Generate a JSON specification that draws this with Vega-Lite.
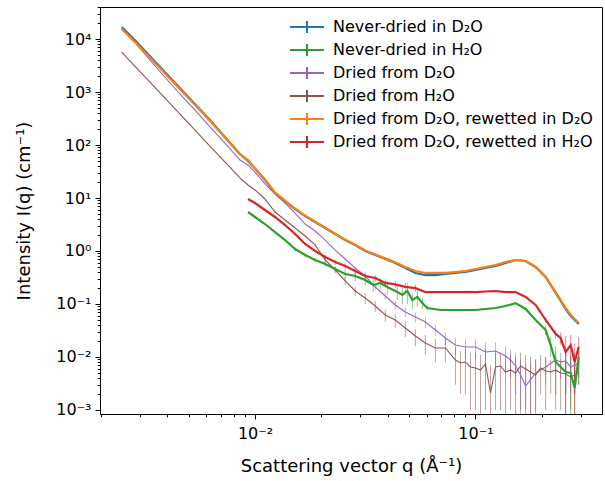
{
  "$schema": "https://vega.github.io/schema/vega-lite/v6.json",
  "width": 502,
  "height": 407,
  "autosize": {"type": "none"},
  "padding": {"left": 100, "top": 7, "right": 3, "bottom": 67},
  "background": "white",
  "config": {
    "view": {"stroke": "black", "strokeWidth": 1},
    "font": "DejaVu Sans",
    "axis": {
      "domainColor": "black", "tickColor": "black", "labelColor": "black", "titleColor": "black",
      "labelFont": "DejaVu Sans", "titleFont": "DejaVu Sans", "labelFontSize": 16, "titleFontSize": 18,
      "titleFontWeight": "normal", "grid": false, "labelOverlap": false, "labelFlush": false, "tickWidth": 1, "domainWidth": 1
    },
    "legend": {
      "labelFont": "DejaVu Sans", "labelFontSize": 16, "labelColor": "black", "labelLimit": 0
    }
  },
  "data": {"values": [
    {"s":"Never-dried in D₂O","q":0.002486,"I":16840},
    {"s":"Never-dried in D₂O","q":0.002848,"I":9570},
    {"s":"Never-dried in D₂O","q":0.003332,"I":4780},
    {"s":"Never-dried in D₂O","q":0.003898,"I":2385},
    {"s":"Never-dried in D₂O","q":0.00456,"I":1190},
    {"s":"Never-dried in D₂O","q":0.005337,"I":594},
    {"s":"Never-dried in D₂O","q":0.006245,"I":296},
    {"s":"Never-dried in D₂O","q":0.007305,"I":141.6},
    {"s":"Never-dried in D₂O","q":0.008547,"I":67.6},
    {"s":"Never-dried in D₂O","q":0.009294,"I":50},
    {"s":"Never-dried in D₂O","q":0.01,"I":36},
    {"s":"Never-dried in D₂O","q":0.0111,"I":21.9},
    {"s":"Never-dried in D₂O","q":0.01233,"I":12.4},
    {"s":"Never-dried in D₂O","q":0.01369,"I":8.77},
    {"s":"Never-dried in D₂O","q":0.0152,"I":6.2},
    {"s":"Never-dried in D₂O","q":0.01688,"I":4.58},
    {"s":"Never-dried in D₂O","q":0.01874,"I":3.53},
    {"s":"Never-dried in D₂O","q":0.02081,"I":2.72},
    {"s":"Never-dried in D₂O","q":0.0231,"I":2.09},
    {"s":"Never-dried in D₂O","q":0.02565,"I":1.61},
    {"s":"Never-dried in D₂O","q":0.02848,"I":1.3},
    {"s":"Never-dried in D₂O","q":0.03162,"I":1.0},
    {"s":"Never-dried in D₂O","q":0.03511,"I":0.84},
    {"s":"Never-dried in D₂O","q":0.03899,"I":0.707},
    {"s":"Never-dried in D₂O","q":0.04329,"I":0.594},
    {"s":"Never-dried in D₂O","q":0.04807,"I":0.478},
    {"s":"Never-dried in D₂O","q":0.05337,"I":0.385},
    {"s":"Never-dried in D₂O","q":0.05926,"I":0.352},
    {"s":"Never-dried in D₂O","q":0.06579,"I":0.352},
    {"s":"Never-dried in D₂O","q":0.07305,"I":0.368},
    {"s":"Never-dried in D₂O","q":0.08111,"I":0.385},
    {"s":"Never-dried in D₂O","q":0.09006,"I":0.402},
    {"s":"Never-dried in D₂O","q":0.1,"I":0.438},
    {"s":"Never-dried in D₂O","q":0.111,"I":0.478},
    {"s":"Never-dried in D₂O","q":0.1233,"I":0.521},
    {"s":"Never-dried in D₂O","q":0.1369,"I":0.594},
    {"s":"Never-dried in D₂O","q":0.152,"I":0.676},
    {"s":"Never-dried in D₂O","q":0.1688,"I":0.648},
    {"s":"Never-dried in D₂O","q":0.1874,"I":0.499},
    {"s":"Never-dried in D₂O","q":0.2081,"I":0.323},
    {"s":"Never-dried in D₂O","q":0.231,"I":0.161},
    {"s":"Never-dried in D₂O","q":0.2434,"I":0.114},
    {"s":"Never-dried in D₂O","q":0.2565,"I":0.08},
    {"s":"Never-dried in D₂O","q":0.2703,"I":0.0594},
    {"s":"Never-dried in D₂O","q":0.2818,"I":0.05},
    {"s":"Never-dried in D₂O","q":0.2938,"I":0.042},

    {"s":"Never-dried in H₂O","q":0.009294,"I":5.44},
    {"s":"Never-dried in H₂O","q":0.01,"I":4.38},
    {"s":"Never-dried in H₂O","q":0.0111,"I":3.23},
    {"s":"Never-dried in H₂O","q":0.01233,"I":2.28},
    {"s":"Never-dried in H₂O","q":0.01369,"I":1.61},
    {"s":"Never-dried in H₂O","q":0.0152,"I":1.09,"lo":1.0,"hi":1.18},
    {"s":"Never-dried in H₂O","q":0.01688,"I":0.84,"lo":0.77,"hi":0.91},
    {"s":"Never-dried in H₂O","q":0.01874,"I":0.676,"lo":0.62,"hi":0.73},
    {"s":"Never-dried in H₂O","q":0.02081,"I":0.569,"lo":0.51,"hi":0.63},
    {"s":"Never-dried in H₂O","q":0.0231,"I":0.457,"lo":0.4,"hi":0.51},
    {"s":"Never-dried in H₂O","q":0.02565,"I":0.368,"lo":0.3,"hi":0.44},
    {"s":"Never-dried in H₂O","q":0.02848,"I":0.338,"lo":0.27,"hi":0.41},
    {"s":"Never-dried in H₂O","q":0.03162,"I":0.284,"lo":0.22,"hi":0.35},
    {"s":"Never-dried in H₂O","q":0.03439,"I":0.228,"lo":0.17,"hi":0.29},
    {"s":"Never-dried in H₂O","q":0.037,"I":0.249,"lo":0.19,"hi":0.31},
    {"s":"Never-dried in H₂O","q":0.03981,"I":0.209,"lo":0.15,"hi":0.27},
    {"s":"Never-dried in H₂O","q":0.04419,"I":0.168,"lo":0.12,"hi":0.22},
    {"s":"Never-dried in H₂O","q":0.04659,"I":0.148,"lo":0.1,"hi":0.2},
    {"s":"Never-dried in H₂O","q":0.04908,"I":0.176,"lo":0.1,"hi":0.25},
    {"s":"Never-dried in H₂O","q":0.05171,"I":0.119,"lo":0.08,"hi":0.16},
    {"s":"Never-dried in H₂O","q":0.05449,"I":0.136,"lo":0.09,"hi":0.18},
    {"s":"Never-dried in H₂O","q":0.05741,"I":0.104,"lo":0.08,"hi":0.13},
    {"s":"Never-dried in H₂O","q":0.06049,"I":0.0841,"lo":0.075,"hi":0.093},
    {"s":"Never-dried in H₂O","q":0.06934,"I":0.0771},
    {"s":"Never-dried in H₂O","q":0.08111,"I":0.0771},
    {"s":"Never-dried in H₂O","q":0.09006,"I":0.0771},
    {"s":"Never-dried in H₂O","q":0.1,"I":0.0771},
    {"s":"Never-dried in H₂O","q":0.111,"I":0.0805},
    {"s":"Never-dried in H₂O","q":0.1233,"I":0.0841},
    {"s":"Never-dried in H₂O","q":0.1369,"I":0.0917},
    {"s":"Never-dried in H₂O","q":0.152,"I":0.104},
    {"s":"Never-dried in H₂O","q":0.1688,"I":0.0805},
    {"s":"Never-dried in H₂O","q":0.1874,"I":0.0499},
    {"s":"Never-dried in H₂O","q":0.2081,"I":0.0323,"lo":0.026,"hi":0.039},
    {"s":"Never-dried in H₂O","q":0.2193,"I":0.0168,"lo":0.01,"hi":0.024},
    {"s":"Never-dried in H₂O","q":0.231,"I":0.00805,"lo":0.001,"hi":0.016},
    {"s":"Never-dried in H₂O","q":0.2565,"I":0.00521,"lo":0.0005,"hi":0.011},
    {"s":"Never-dried in H₂O","q":0.2703,"I":0.00499,"lo":0.0005,"hi":0.01},
    {"s":"Never-dried in H₂O","q":0.2818,"I":0.0026,"lo":0.0005,"hi":0.008},
    {"s":"Never-dried in H₂O","q":0.2938,"I":0.01,"lo":0.004,"hi":0.016},

    {"s":"Dried from D₂O","q":0.002486,"I":15450},
    {"s":"Dried from D₂O","q":0.002848,"I":8770},
    {"s":"Dried from D₂O","q":0.003332,"I":4016},
    {"s":"Dried from D₂O","q":0.003898,"I":1919},
    {"s":"Dried from D₂O","q":0.00456,"I":917},
    {"s":"Dried from D₂O","q":0.005337,"I":458},
    {"s":"Dried from D₂O","q":0.006245,"I":219},
    {"s":"Dried from D₂O","q":0.007305,"I":109},
    {"s":"Dried from D₂O","q":0.008547,"I":52.1},
    {"s":"Dried from D₂O","q":0.009294,"I":41.9},
    {"s":"Dried from D₂O","q":0.01,"I":30.9},
    {"s":"Dried from D₂O","q":0.0111,"I":18.4},
    {"s":"Dried from D₂O","q":0.01233,"I":11.9},
    {"s":"Dried from D₂O","q":0.01369,"I":8.05},
    {"s":"Dried from D₂O","q":0.0152,"I":5.21},
    {"s":"Dried from D₂O","q":0.01688,"I":3.23},
    {"s":"Dried from D₂O","q":0.01874,"I":2.38},
    {"s":"Dried from D₂O","q":0.02081,"I":1.61},
    {"s":"Dried from D₂O","q":0.0231,"I":1.04},
    {"s":"Dried from D₂O","q":0.02565,"I":0.707},
    {"s":"Dried from D₂O","q":0.02848,"I":0.478},
    {"s":"Dried from D₂O","q":0.03162,"I":0.3375,"lo":0.3,"hi":0.37},
    {"s":"Dried from D₂O","q":0.03511,"I":0.209,"lo":0.18,"hi":0.24},
    {"s":"Dried from D₂O","q":0.03899,"I":0.1416,"lo":0.12,"hi":0.165},
    {"s":"Dried from D₂O","q":0.04329,"I":0.0958,"lo":0.08,"hi":0.112},
    {"s":"Dried from D₂O","q":0.04807,"I":0.0707,"lo":0.057,"hi":0.085},
    {"s":"Dried from D₂O","q":0.05337,"I":0.0569,"lo":0.045,"hi":0.069},
    {"s":"Dried from D₂O","q":0.05926,"I":0.0458,"lo":0.035,"hi":0.057},
    {"s":"Dried from D₂O","q":0.06579,"I":0.0323,"lo":0.025,"hi":0.04},
    {"s":"Dried from D₂O","q":0.07305,"I":0.0228,"lo":0.017,"hi":0.029},
    {"s":"Dried from D₂O","q":0.08111,"I":0.0168,"lo":0.011,"hi":0.023},
    {"s":"Dried from D₂O","q":0.09006,"I":0.01544,"lo":0.009,"hi":0.022},
    {"s":"Dried from D₂O","q":0.1,"I":0.01544,"lo":0.009,"hi":0.022},
    {"s":"Dried from D₂O","q":0.111,"I":0.01242,"lo":0.006,"hi":0.019},
    {"s":"Dried from D₂O","q":0.1233,"I":0.01297,"lo":0.007,"hi":0.019},
    {"s":"Dried from D₂O","q":0.1369,"I":0.0104,"lo":0.005,"hi":0.016},
    {"s":"Dried from D₂O","q":0.1442,"I":0.00878,"lo":0.004,"hi":0.014},
    {"s":"Dried from D₂O","q":0.152,"I":0.00676,"lo":0.002,"hi":0.012},
    {"s":"Dried from D₂O","q":0.1601,"I":0.00457,"lo":0.0005,"hi":0.009},
    {"s":"Dried from D₂O","q":0.1688,"I":0.00284,"lo":0.0005,"hi":0.007},
    {"s":"Dried from D₂O","q":0.1778,"I":0.00371,"lo":0.0005,"hi":0.008},
    {"s":"Dried from D₂O","q":0.1874,"I":0.00499,"lo":0.001,"hi":0.009},
    {"s":"Dried from D₂O","q":0.2081,"I":0.00648,"lo":0.003,"hi":0.01},
    {"s":"Dried from D₂O","q":0.231,"I":0.00878,"lo":0.005,"hi":0.013},
    {"s":"Dried from D₂O","q":0.2434,"I":0.00805,"lo":0.004,"hi":0.012},
    {"s":"Dried from D₂O","q":0.2565,"I":0.00841,"lo":0.004,"hi":0.013},
    {"s":"Dried from D₂O","q":0.2703,"I":0.00648,"lo":0.002,"hi":0.011},
    {"s":"Dried from D₂O","q":0.2818,"I":0.00706,"lo":0.002,"hi":0.012},
    {"s":"Dried from D₂O","q":0.2938,"I":0.0077,"lo":0.003,"hi":0.013},

    {"s":"Dried from H₂O","q":0.002486,"I":5686},
    {"s":"Dried from H₂O","q":0.002848,"I":3095},
    {"s":"Dried from H₂O","q":0.003332,"I":1545},
    {"s":"Dried from H₂O","q":0.003898,"I":771},
    {"s":"Dried from H₂O","q":0.00456,"I":385},
    {"s":"Dried from H₂O","q":0.005337,"I":192},
    {"s":"Dried from H₂O","q":0.006245,"I":95.7},
    {"s":"Dried from H₂O","q":0.007305,"I":47.8},
    {"s":"Dried from H₂O","q":0.008547,"I":23.9},
    {"s":"Dried from H₂O","q":0.009294,"I":17.6},
    {"s":"Dried from H₂O","q":0.01,"I":14.2},
    {"s":"Dried from H₂O","q":0.0111,"I":9.58},
    {"s":"Dried from H₂O","q":0.01233,"I":5.44},
    {"s":"Dried from H₂O","q":0.01369,"I":3.85},
    {"s":"Dried from H₂O","q":0.0152,"I":2.72},
    {"s":"Dried from H₂O","q":0.01688,"I":1.92},
    {"s":"Dried from H₂O","q":0.01874,"I":1.3},
    {"s":"Dried from H₂O","q":0.02081,"I":0.676,"lo":0.6,"hi":0.75},
    {"s":"Dried from H₂O","q":0.0231,"I":0.438,"lo":0.38,"hi":0.5},
    {"s":"Dried from H₂O","q":0.02565,"I":0.272,"lo":0.23,"hi":0.32},
    {"s":"Dried from H₂O","q":0.02848,"I":0.176,"lo":0.14,"hi":0.21},
    {"s":"Dried from H₂O","q":0.03162,"I":0.13,"lo":0.1,"hi":0.16},
    {"s":"Dried from H₂O","q":0.03511,"I":0.0917,"lo":0.07,"hi":0.113},
    {"s":"Dried from H₂O","q":0.03899,"I":0.062,"lo":0.046,"hi":0.078},
    {"s":"Dried from H₂O","q":0.04329,"I":0.0499,"lo":0.036,"hi":0.064},
    {"s":"Dried from H₂O","q":0.04807,"I":0.0353,"lo":0.024,"hi":0.047},
    {"s":"Dried from H₂O","q":0.05337,"I":0.0249,"lo":0.016,"hi":0.034},
    {"s":"Dried from H₂O","q":0.05926,"I":0.0184,"lo":0.011,"hi":0.026},
    {"s":"Dried from H₂O","q":0.06579,"I":0.0148,"lo":0.008,"hi":0.022},
    {"s":"Dried from H₂O","q":0.07305,"I":0.0148,"lo":0.008,"hi":0.022},
    {"s":"Dried from H₂O","q":0.08111,"I":0.00878,"lo":0.003,"hi":0.015},
    {"s":"Dried from H₂O","q":0.08546,"I":0.0077,"lo":0.002,"hi":0.013},
    {"s":"Dried from H₂O","q":0.09006,"I":0.00805,"lo":0.002,"hi":0.014},
    {"s":"Dried from H₂O","q":0.0949,"I":0.00648,"lo":0.001,"hi":0.012},
    {"s":"Dried from H₂O","q":0.1,"I":0.0062,"lo":0.001,"hi":0.012},
    {"s":"Dried from H₂O","q":0.1054,"I":0.00569,"lo":0.0005,"hi":0.011},
    {"s":"Dried from H₂O","q":0.111,"I":0.0074,"lo":0.001,"hi":0.014},
    {"s":"Dried from H₂O","q":0.117,"I":0.00209,"lo":0.0005,"hi":0.007},
    {"s":"Dried from H₂O","q":0.1233,"I":0.00648,"lo":0.001,"hi":0.012},
    {"s":"Dried from H₂O","q":0.1299,"I":0.00676,"lo":0.001,"hi":0.012},
    {"s":"Dried from H₂O","q":0.1369,"I":0.00521,"lo":0.0005,"hi":0.01},
    {"s":"Dried from H₂O","q":0.1442,"I":0.00569,"lo":0.001,"hi":0.011},
    {"s":"Dried from H₂O","q":0.152,"I":0.00499,"lo":0.0005,"hi":0.01},
    {"s":"Dried from H₂O","q":0.1601,"I":0.00676,"lo":0.001,"hi":0.012},
    {"s":"Dried from H₂O","q":0.1688,"I":0.00594,"lo":0.001,"hi":0.011},
    {"s":"Dried from H₂O","q":0.1778,"I":0.00521,"lo":0.0005,"hi":0.01},
    {"s":"Dried from H₂O","q":0.1874,"I":0.00457,"lo":0.0005,"hi":0.009},
    {"s":"Dried from H₂O","q":0.1974,"I":0.0062,"lo":0.002,"hi":0.011},
    {"s":"Dried from H₂O","q":0.2081,"I":0.00545,"lo":0.001,"hi":0.01},
    {"s":"Dried from H₂O","q":0.2193,"I":0.00521,"lo":0.002,"hi":0.009},
    {"s":"Dried from H₂O","q":0.231,"I":0.00569,"lo":0.002,"hi":0.01},
    {"s":"Dried from H₂O","q":0.2434,"I":0.00499,"lo":0.001,"hi":0.009},
    {"s":"Dried from H₂O","q":0.2565,"I":0.00478,"lo":0.002,"hi":0.008},
    {"s":"Dried from H₂O","q":0.2703,"I":0.0042,"lo":0.001,"hi":0.008},
    {"s":"Dried from H₂O","q":0.2818,"I":0.00457,"lo":0.002,"hi":0.008},
    {"s":"Dried from H₂O","q":0.2938,"I":0.00521,"lo":0.003,"hi":0.008},

    {"s":"Dried from D₂O, rewetted in D₂O","q":0.002486,"I":15450},
    {"s":"Dried from D₂O, rewetted in D₂O","q":0.002848,"I":8900},
    {"s":"Dried from D₂O, rewetted in D₂O","q":0.003332,"I":4500},
    {"s":"Dried from D₂O, rewetted in D₂O","q":0.003898,"I":2270},
    {"s":"Dried from D₂O, rewetted in D₂O","q":0.00456,"I":1140},
    {"s":"Dried from D₂O, rewetted in D₂O","q":0.005337,"I":575},
    {"s":"Dried from D₂O, rewetted in D₂O","q":0.006245,"I":288},
    {"s":"Dried from D₂O, rewetted in D₂O","q":0.007305,"I":139},
    {"s":"Dried from D₂O, rewetted in D₂O","q":0.008547,"I":67},
    {"s":"Dried from D₂O, rewetted in D₂O","q":0.009294,"I":52},
    {"s":"Dried from D₂O, rewetted in D₂O","q":0.01,"I":36},
    {"s":"Dried from D₂O, rewetted in D₂O","q":0.0111,"I":22.5},
    {"s":"Dried from D₂O, rewetted in D₂O","q":0.01233,"I":12.6},
    {"s":"Dried from D₂O, rewetted in D₂O","q":0.01369,"I":8.9},
    {"s":"Dried from D₂O, rewetted in D₂O","q":0.0152,"I":6.3},
    {"s":"Dried from D₂O, rewetted in D₂O","q":0.01688,"I":4.65},
    {"s":"Dried from D₂O, rewetted in D₂O","q":0.01874,"I":3.58},
    {"s":"Dried from D₂O, rewetted in D₂O","q":0.02081,"I":2.76},
    {"s":"Dried from D₂O, rewetted in D₂O","q":0.0231,"I":2.12},
    {"s":"Dried from D₂O, rewetted in D₂O","q":0.02565,"I":1.63},
    {"s":"Dried from D₂O, rewetted in D₂O","q":0.02848,"I":1.32},
    {"s":"Dried from D₂O, rewetted in D₂O","q":0.03162,"I":1.02},
    {"s":"Dried from D₂O, rewetted in D₂O","q":0.03511,"I":0.86},
    {"s":"Dried from D₂O, rewetted in D₂O","q":0.03899,"I":0.725},
    {"s":"Dried from D₂O, rewetted in D₂O","q":0.04329,"I":0.61},
    {"s":"Dried from D₂O, rewetted in D₂O","q":0.04807,"I":0.499},
    {"s":"Dried from D₂O, rewetted in D₂O","q":0.05337,"I":0.42},
    {"s":"Dried from D₂O, rewetted in D₂O","q":0.05926,"I":0.385},
    {"s":"Dried from D₂O, rewetted in D₂O","q":0.06579,"I":0.385},
    {"s":"Dried from D₂O, rewetted in D₂O","q":0.07305,"I":0.385},
    {"s":"Dried from D₂O, rewetted in D₂O","q":0.08111,"I":0.402},
    {"s":"Dried from D₂O, rewetted in D₂O","q":0.09006,"I":0.42},
    {"s":"Dried from D₂O, rewetted in D₂O","q":0.1,"I":0.457},
    {"s":"Dried from D₂O, rewetted in D₂O","q":0.111,"I":0.499},
    {"s":"Dried from D₂O, rewetted in D₂O","q":0.1233,"I":0.545},
    {"s":"Dried from D₂O, rewetted in D₂O","q":0.1369,"I":0.62},
    {"s":"Dried from D₂O, rewetted in D₂O","q":0.152,"I":0.676},
    {"s":"Dried from D₂O, rewetted in D₂O","q":0.1688,"I":0.648},
    {"s":"Dried from D₂O, rewetted in D₂O","q":0.1874,"I":0.499},
    {"s":"Dried from D₂O, rewetted in D₂O","q":0.2081,"I":0.323},
    {"s":"Dried from D₂O, rewetted in D₂O","q":0.231,"I":0.168},
    {"s":"Dried from D₂O, rewetted in D₂O","q":0.2434,"I":0.119},
    {"s":"Dried from D₂O, rewetted in D₂O","q":0.2565,"I":0.0839},
    {"s":"Dried from D₂O, rewetted in D₂O","q":0.2703,"I":0.062},
    {"s":"Dried from D₂O, rewetted in D₂O","q":0.2818,"I":0.0522},
    {"s":"Dried from D₂O, rewetted in D₂O","q":0.2938,"I":0.0438},

    {"s":"Dried from D₂O, rewetted in H₂O","q":0.009294,"I":9.58},
    {"s":"Dried from D₂O, rewetted in H₂O","q":0.01,"I":8.05},
    {"s":"Dried from D₂O, rewetted in H₂O","q":0.0111,"I":5.94},
    {"s":"Dried from D₂O, rewetted in H₂O","q":0.01233,"I":4.38},
    {"s":"Dried from D₂O, rewetted in H₂O","q":0.01369,"I":3.09},
    {"s":"Dried from D₂O, rewetted in H₂O","q":0.0152,"I":2.09},
    {"s":"Dried from D₂O, rewetted in H₂O","q":0.01688,"I":1.355},
    {"s":"Dried from D₂O, rewetted in H₂O","q":0.01874,"I":1.0},
    {"s":"Dried from D₂O, rewetted in H₂O","q":0.02081,"I":0.77,"lo":0.7,"hi":0.84},
    {"s":"Dried from D₂O, rewetted in H₂O","q":0.0231,"I":0.62,"lo":0.55,"hi":0.69},
    {"s":"Dried from D₂O, rewetted in H₂O","q":0.02565,"I":0.521,"lo":0.45,"hi":0.59},
    {"s":"Dried from D₂O, rewetted in H₂O","q":0.02848,"I":0.42,"lo":0.36,"hi":0.48},
    {"s":"Dried from D₂O, rewetted in H₂O","q":0.03162,"I":0.338,"lo":0.29,"hi":0.39},
    {"s":"Dried from D₂O, rewetted in H₂O","q":0.03511,"I":0.31,"lo":0.26,"hi":0.35},
    {"s":"Dried from D₂O, rewetted in H₂O","q":0.03899,"I":0.25,"lo":0.21,"hi":0.29},
    {"s":"Dried from D₂O, rewetted in H₂O","q":0.04329,"I":0.235,"lo":0.2,"hi":0.27},
    {"s":"Dried from D₂O, rewetted in H₂O","q":0.04807,"I":0.21,"lo":0.18,"hi":0.25},
    {"s":"Dried from D₂O, rewetted in H₂O","q":0.05337,"I":0.2,"lo":0.17,"hi":0.23},
    {"s":"Dried from D₂O, rewetted in H₂O","q":0.05926,"I":0.168},
    {"s":"Dried from D₂O, rewetted in H₂O","q":0.06579,"I":0.168},
    {"s":"Dried from D₂O, rewetted in H₂O","q":0.07305,"I":0.168},
    {"s":"Dried from D₂O, rewetted in H₂O","q":0.08111,"I":0.168},
    {"s":"Dried from D₂O, rewetted in H₂O","q":0.09006,"I":0.168},
    {"s":"Dried from D₂O, rewetted in H₂O","q":0.1,"I":0.168},
    {"s":"Dried from D₂O, rewetted in H₂O","q":0.111,"I":0.172},
    {"s":"Dried from D₂O, rewetted in H₂O","q":0.1233,"I":0.176},
    {"s":"Dried from D₂O, rewetted in H₂O","q":0.1369,"I":0.168},
    {"s":"Dried from D₂O, rewetted in H₂O","q":0.152,"I":0.168},
    {"s":"Dried from D₂O, rewetted in H₂O","q":0.1688,"I":0.136},
    {"s":"Dried from D₂O, rewetted in H₂O","q":0.1874,"I":0.0958},
    {"s":"Dried from D₂O, rewetted in H₂O","q":0.2081,"I":0.0499,"lo":0.044,"hi":0.056},
    {"s":"Dried from D₂O, rewetted in H₂O","q":0.231,"I":0.0272,"lo":0.022,"hi":0.032},
    {"s":"Dried from D₂O, rewetted in H₂O","q":0.2434,"I":0.0228,"lo":0.017,"hi":0.029},
    {"s":"Dried from D₂O, rewetted in H₂O","q":0.2565,"I":0.0124,"lo":0.0005,"hi":0.025},
    {"s":"Dried from D₂O, rewetted in H₂O","q":0.2703,"I":0.0168,"lo":0.008,"hi":0.026},
    {"s":"Dried from D₂O, rewetted in H₂O","q":0.2818,"I":0.00805,"lo":0.0005,"hi":0.018},
    {"s":"Dried from D₂O, rewetted in H₂O","q":0.2938,"I":0.0154,"lo":0.007,"hi":0.024}
  ]},
  "encoding": {
    "x": {
      "field": "q", "type": "quantitative",
      "scale": {"type": "log", "domain": [0.001982, 0.3748], "nice": false},
      "axis": {
        "title": "Scattering vector q (Å⁻¹)",
        "titlePadding": 16,
        "values": [0.002,0.003,0.004,0.005,0.006,0.007,0.008,0.009,0.01,0.02,0.03,0.04,0.05,0.06,0.07,0.08,0.09,0.1,0.2,0.3],
        "labelExpr": "abs(log(datum.value)/LN10 - round(log(datum.value)/LN10)) < 0.001 ? '10' + ['⁻³','⁻²','⁻¹','⁰','¹','²','³','⁴'][round(log(datum.value)/LN10)+3] : ''",
        "tickSize": {"condition": {"test": "abs(log(datum.value)/LN10 - round(log(datum.value)/LN10)) < 0.001", "value": 5}, "value": 2.8},
        "labelPadding": 6
      }
    },
    "y": {
      "field": "I", "type": "quantitative",
      "scale": {"type": "log", "domain": [0.00084, 40180], "nice": false},
      "axis": {
        "title": "Intensity I(q) (cm⁻¹)",
        "titlePadding": 22,
        "values": [0.001,0.002,0.003,0.004,0.005,0.006,0.007,0.008,0.009,0.01,0.02,0.03,0.04,0.05,0.06,0.07,0.08,0.09,0.1,0.2,0.3,0.4,0.5,0.6,0.7,0.8,0.9,1,2,3,4,5,6,7,8,9,10,20,30,40,50,60,70,80,90,100,200,300,400,500,600,700,800,900,1000,2000,3000,4000,5000,6000,7000,8000,9000,10000,20000,30000,40000],
        "labelExpr": "abs(log(datum.value)/LN10 - round(log(datum.value)/LN10)) < 0.001 ? '10' + ['⁻³','⁻²','⁻¹','⁰','¹','²','³','⁴'][round(log(datum.value)/LN10)+3] : ''",
        "tickSize": {"condition": {"test": "abs(log(datum.value)/LN10 - round(log(datum.value)/LN10)) < 0.001", "value": 5}, "value": 2.8},
        "labelPadding": 4
      }
    },
    "color": {
      "field": "s", "type": "nominal",
      "scale": {
        "domain": ["Never-dried in D₂O","Never-dried in H₂O","Dried from D₂O","Dried from H₂O","Dried from D₂O, rewetted in D₂O","Dried from D₂O, rewetted in H₂O"],
        "range": ["#1f77b4","#2ca02c","#9467bd","#8c564b","#ff7f0e","#d62728"]
      },
      "legend": {
        "title": null, "orient": "none", "legendX": 199, "legendY": 12,
        "padding": 0, "symbolType": "M-3.1,0H3.1M0,-1.1V1.1", "symbolSize": 121,
        "labelOffset": 18, "rowPadding": 1, "symbolFillColor": "transparent", "symbolOpacity": 1, "labelLimit": 0,
        "symbolStrokeWidth": 2
      }
    }
  },
  "layer": [
    {
      "transform": [{"filter": "isValid(datum.lo)"}],
      "mark": {"type": "rule", "clip": true, "strokeWidth": 1, "opacity": 0.55},
      "encoding": {
        "y": {"field": "lo", "type": "quantitative"},
        "y2": {"field": "hi"}
      }
    },
    {
      "transform": [{"filter": "datum.s == 'Dried from D₂O' || datum.s == 'Dried from H₂O'"}],
      "mark": {"type": "line", "clip": true, "strokeWidth": 1.1}
    },
    {
      "transform": [{"filter": "datum.s != 'Dried from D₂O' && datum.s != 'Dried from H₂O'"}],
      "mark": {"type": "line", "clip": true, "strokeWidth": 2.2}
    }
  ]
}
